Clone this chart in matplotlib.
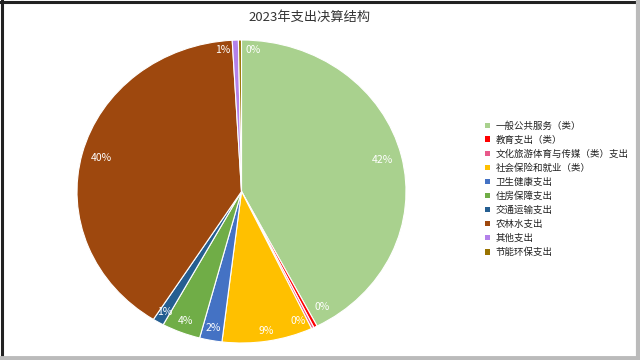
import matplotlib
matplotlib.use("Agg")
import matplotlib.pyplot as plt
from matplotlib.patches import Rectangle
from matplotlib.lines import Line2D
import numpy as np

plt.rcParams['font.family'] = ['Noto Sans CJK SC', 'DejaVu Sans']

title = "2023年支出决算结构"
categories = ["一般公共服务（类）", "教育支出（类）", "文化旅游体育与传媒（类）支出",
              "社会保险和就业（类）", "卫生健康支出", "住房保障支出", "交通运输支出",
              "农林水支出", "其他支出", "节能环保支出"]
values = [42.4, 0.35, 0.25, 8.9, 2.2, 3.8, 1.1, 40.1, 0.6, 0.3]
colors = ["#A9D18E", "#FF0000", "#E8598A", "#FFC000", "#4472C4", "#70AD47",
          "#255E91", "#9E480E", "#B381EA", "#997300"]
# label placement tweaks (angle offset deg, radius) for readability
label_shift = [0, -6, 3.5, 0, 0, 0, 0, 0, -5, 5]
label_rad = [0.88, 0.91, 0.92, 0.93, 0.92, 0.92, 0.92, 0.88, 0.94, 0.94]

fig = plt.figure(figsize=(6.4, 3.6), dpi=100)
ax = fig.add_axes([77/640, 1-343/360, 329/640, 303/360])

wedges, _ = ax.pie(values, colors=colors, startangle=90, counterclock=False,
                   wedgeprops=dict(edgecolor="white", linewidth=0.8))
ax.set_aspect('auto')
ax.set_xlim(-1, 1)
ax.set_ylim(-1, 1)

total = sum(values)
cum = 0.0
for i, v in enumerate(values):
    mid = (cum + v / 2) / total * 360 + label_shift[i]
    cum += v
    theta = np.deg2rad(90 - mid)
    r = label_rad[i]
    pct = int(round(v / total * 100))
    ax.text(r * np.cos(theta), r * np.sin(theta), f"{pct}%", color="white",
            ha="center", va="center", fontsize=7.5)

handles = [Rectangle((0, 0), 1, 1, facecolor=c, edgecolor="none") for c in colors]
leg = fig.legend(handles, categories, loc="upper left",
                 bbox_to_anchor=(485/640, 1-121/360), frameon=False,
                 fontsize=6.8, handlelength=0.5, handleheight=0.5,
                 handletextpad=0.6, labelspacing=0.5, borderpad=0, borderaxespad=0)
for t in leg.get_texts():
    t.set_color("#222222")

fig.text(310/640, 1-17/360, title, ha="center", va="center", fontsize=9.5,
         color="#333333")

# frame
fig.add_artist(Line2D([0, 1], [1 - 1.5/360, 1 - 1.5/360], transform=fig.transFigure,
                      color="#222222", linewidth=2.2))
fig.add_artist(Line2D([1.5/640, 1.5/640], [0, 1], transform=fig.transFigure,
                      color="#222222", linewidth=2.2))
fig.add_artist(Line2D([1 - 2/640, 1 - 2/640], [0, 1], transform=fig.transFigure,
                      color="#BBBBBB", linewidth=3))
fig.add_artist(Line2D([0, 1], [2.5/360, 2.5/360], transform=fig.transFigure,
                      color="#BBBBBB", linewidth=3.5))

fig.savefig("out.png", dpi=100)
